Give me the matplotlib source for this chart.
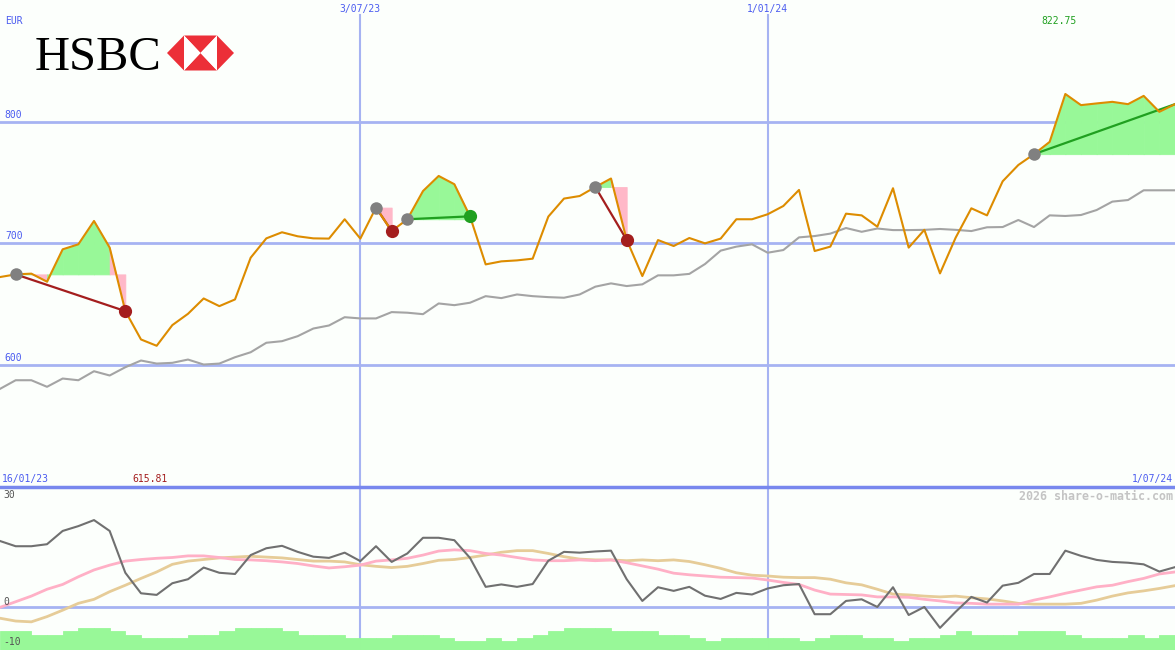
import matplotlib.pyplot as plt
import matplotlib.dates as mdates
import numpy as np
import pandas as pd
from matplotlib.patches import Polygon

# weekly closes, 23/01/23 .. 1/07/24
dates = pd.date_range('2023-01-23', periods=76, freq='7D')

price = [672.3, 674.5, 675.1, 668.5, 695.1, 699.2, 718.4, 696.5, 644.3, 621.0,
         615.81, 632.8, 642.1, 654.7, 648.4, 653.9, 688.2, 704.1, 709.1, 705.8,
         704.1, 703.9, 719.8, 703.9, 729.4, 710.1, 719.8, 743.0, 755.4, 748.6,
         722.2, 682.7, 685.2, 686.0, 687.4, 722.0, 736.8, 738.9, 746.3, 753.3,
         702.9, 673.1, 702.7, 697.8, 704.4, 700.0, 703.9, 719.8, 719.8, 723.9,
         730.7, 743.9, 693.7, 697.3, 724.4, 723.0, 713.7, 745.3, 696.5, 711.1,
         675.3, 704.7, 728.8, 723.0, 751.0, 764.4, 773.3, 783.4, 822.75, 813.6,
         815.0, 816.3, 814.4, 821.2, 808.1, 814.4]

avg = [580.4, 587.5, 587.5, 582.1, 588.9, 587.5, 594.9, 591.4, 598.2, 603.7,
       601.2, 601.8, 604.5, 600.4, 601.2, 606.4, 610.5, 618.3, 619.6, 623.7,
       630.0, 632.5, 639.3, 638.3, 638.3, 643.5, 643.0, 641.8, 650.6, 649.2,
       651.2, 656.6, 655.0, 658.0, 656.6, 655.8, 655.3, 658.0, 664.4, 667.1,
       664.9, 666.3, 673.7, 673.7, 674.9, 683.0, 694.0, 697.3, 699.2, 692.3,
       694.5, 704.9, 706.0, 708.0, 712.6, 709.5, 712.2, 710.9, 710.9, 711.1,
       711.8, 711.1, 710.1, 713.2, 713.4, 719.2, 713.4, 723.0, 722.5, 723.3,
       727.4, 734.3, 735.6, 743.6, 743.6, 743.6]

osc = [16.5, 15.2, 15.2, 15.7, 19.0, 20.2, 21.7, 19.0, 8.6, 3.5,
       3.1, 6.0, 7.0, 9.9, 8.6, 8.3, 13.0, 14.7, 15.3, 13.8,
       12.6, 12.3, 13.6, 11.5, 15.2, 11.3, 13.4, 17.3, 17.3, 16.7,
       12.3, 5.1, 5.7, 5.1, 5.8, 11.6, 13.8, 13.6, 13.9, 14.1,
       7.0, 1.6, 5.0, 4.1, 5.1, 2.9, 2.1, 3.6, 3.2, 4.7,
       5.5, 5.8, -1.7, -1.7, 1.6, 2.0, 0.1, 5.0, -1.9, 0.1,
       -5.1, -1.1, 2.6, 1.2, 5.4, 6.1, 8.3, 8.3, 14.1, 12.8,
       11.8, 11.3, 11.1, 10.7, 8.9, 10.0]

osc_pink = [0.0, 1.4, 2.8, 4.5, 5.7, 7.6, 9.3, 10.5, 11.5, 11.9,
            12.2, 12.4, 12.8, 12.8, 12.4, 11.9, 11.8, 11.6, 11.3, 10.9,
            10.3, 9.8, 10.1, 10.5, 11.5, 11.8, 12.2, 13.0, 14.0, 14.3,
            14.1, 13.4, 13.0, 12.4, 11.8, 11.6, 11.6, 11.8, 11.6, 11.8,
            11.1, 10.3, 9.5, 8.5, 8.1, 7.8, 7.5, 7.4, 7.3, 6.8,
            6.2, 5.7, 4.3, 3.3, 3.2, 3.1, 2.6, 2.6, 2.5, 2.0,
            1.6, 1.1, 1.0, 0.8, 0.8, 0.8, 1.8, 2.6, 3.5, 4.3,
            5.1, 5.5, 6.4, 7.2, 8.3, 8.8]

osc_tan = [-2.7, -3.4, -3.6, -2.3, -0.7, 1.0, 2.0, 3.9, 5.5, 7.2,
           8.8, 10.7, 11.5, 11.9, 12.3, 12.5, 12.7, 12.5, 12.3, 11.9,
           11.5, 11.5, 11.3, 10.6, 10.2, 9.9, 10.2, 10.9, 11.7, 11.9,
           12.4, 13.0, 13.7, 14.1, 14.1, 13.4, 12.6, 12.0, 11.8, 11.8,
           11.6, 11.8, 11.6, 11.8, 11.4, 10.6, 9.7, 8.6, 8.0, 7.8,
           7.5, 7.4, 7.4, 7.0, 6.1, 5.6, 4.5, 3.3, 3.1, 2.8,
           2.6, 2.8, 2.4, 2.1, 1.6, 1.0, 0.8, 0.8, 0.8, 1.0,
           1.8, 2.8, 3.6, 4.1, 4.7, 5.4]

vol = [-5.9, -5.9, -6.9, -6.9, -5.9, -5.1, -5.1, -5.9, -6.9, -7.6,
       -7.6, -7.6, -6.9, -6.9, -5.9, -5.1, -5.1, -5.1, -5.9, -6.9,
       -6.9, -6.9, -7.6, -7.6, -7.6, -6.9, -6.9, -6.9, -7.6, -8.4,
       -8.4, -7.6, -8.4, -7.6, -6.9, -5.9, -5.1, -5.1, -5.1, -5.9,
       -5.9, -5.9, -6.9, -6.9, -7.6, -8.4, -7.6, -7.6, -7.6, -7.6,
       -7.6, -8.4, -7.6, -6.9, -6.9, -7.6, -7.6, -8.4, -7.6, -7.6,
       -6.9, -5.9, -6.9, -6.9, -6.9, -5.9, -5.9, -5.9, -6.9, -7.6,
       -7.6, -7.6, -6.9, -7.6, -6.9, -6.9]

# signals: (entry week, exit week); last one still open
trades = [(1, 8), (24, 25), (26, 30), (38, 40), (66, 75)]
open_last = True

grid_levels = [600, 700, 800]
grid_dates = pd.to_datetime(['2023-07-03', '2024-01-01'])
grid_labels = ['3/07/23', '1/01/24']
start_label = '16/01/23'
end_label = '1/07/24'

BG = '#fcfffc'
GRID = '#a6b3f2'
LBL = '#4b5cf0'
GREEN_FILL = '#98f898'
PINK_FILL = '#ffb8c8'
DKRED = '#a41e1e'
DKGREEN = '#20a020'
mono = 'DejaVu Sans Mono'

W, H = 1175, 650
split = 163.3
fig = plt.figure(figsize=(W / 100, H / 100), dpi=100, facecolor=BG)
ax = fig.add_axes([0, split / H, 1, 1 - split / H], facecolor=BG)
ax2 = fig.add_axes([0, 0, 1, split / H], facecolor=BG)

for a in (ax, ax2):
    for s in a.spines.values():
        s.set_visible(False)
    a.set_xticks([])
    a.set_yticks([])
    a.set_xlim(dates[0], dates[-1])

# ---- main panel ----
ax.set_ylim(500, 900)
for v in grid_levels:
    ax.axhline(v, color=GRID, lw=2, zorder=1)
    ax.annotate(str(v), xy=(0, v), xycoords=('axes fraction', 'data'),
                xytext=(3.5, 1.5), textcoords='offset points', fontsize=7,
                family=mono, color=LBL, va='bottom')
for d, lab in zip(grid_dates, grid_labels):
    ax.axvline(d, ymax=0.969, color=GRID, lw=1.5, zorder=1)
    ax2.axvline(d, color=GRID, lw=1.5, zorder=1)
    ax.text(mdates.date2num(d), 0.981, lab, transform=ax.get_xaxis_transform(),
            ha='center', va='center', fontsize=7, family=mono, color=LBL)

p = np.array(price)
for k, (e, x) in enumerate(trades):
    lvl = p[e]
    # each week's segment shaded by where it ends relative to the entry price
    for j in range(e, x):
        c = GREEN_FILL if p[j + 1] >= lvl else PINK_FILL
        ax.fill_between(dates[j:j + 2], p[j:j + 2], lvl, facecolor=c, edgecolor=c,
                        lw=0.6, zorder=2)
    col = DKGREEN if p[x] > lvl else DKRED
    ax.plot([dates[e], dates[x]], [lvl, p[x]], color=col, lw=1.6, zorder=3)

ax.plot(dates, avg, color='#a4a4a4', lw=1.5, zorder=4)
ax.plot(dates, price, color='#dd8c00', lw=1.5, zorder=5)

for k, (e, x) in enumerate(trades):
    ax.plot(dates[e], p[e], 'o', ms=9, color='#808080', mec='none', zorder=6)
    if open_last and k == len(trades) - 1:
        continue
    col = DKGREEN if p[x] > p[e] else DKRED
    ax.plot(dates[x], p[x], 'o', ms=9.5, color=col, mec='none', zorder=6)

# extreme values
imax, imin = int(np.argmax(p)), int(np.argmin(p))
ax.annotate(f'{p[imax]:.2f}', xy=(mdates.date2num(dates[imax]), 0.957),
            xycoords=ax.get_xaxis_transform(), xytext=(-4.5, 0), textcoords='offset points',
            ha='center', va='center', fontsize=7, family=mono, color=DKGREEN)
ax.annotate(f'{p[imin]:.2f}', xy=(mdates.date2num(dates[imin]), 0.016),
            xycoords=ax.get_xaxis_transform(), xytext=(-4.5, 0), textcoords='offset points',
            ha='center', va='center', fontsize=7, family=mono, color=DKRED)
ax.text(0.002, 0.016, start_label, transform=ax.transAxes, ha='left', va='center',
        fontsize=7, family=mono, color=LBL)
ax.text(0.998, 0.016, end_label, transform=ax.transAxes, ha='right', va='center',
        fontsize=7, family=mono, color=LBL)
ax.text(5 / W, 1 - 21.5 / 486.7, 'EUR', transform=ax.transAxes, ha='left', va='center',
        fontsize=7, family=mono, color=LBL)

# logo
fig.text(35 / W, 1 - 70 / H, 'HSBC', family='Liberation Serif', fontsize=35,
         color='black', va='baseline', ha='left')
lax = fig.add_axes([160 / W, 1 - 78 / H, 85 / W, 50 / H])
lax.set_xlim(160, 245)
lax.set_ylim(78, 28)
lax.axis('off')
red = '#ec2f38'
for pts, c in [([(167, 53), (184, 35.5), (184, 70.5)], red),
               ([(234, 53), (217, 35.5), (217, 70.5)], red),
               ([(184, 35.5), (217, 35.5), (200.5, 53)], red),
               ([(184, 70.5), (217, 70.5), (200.5, 53)], red),
               ([(184, 35.5), (184, 70.5), (200.5, 53)], 'white'),
               ([(217, 35.5), (217, 70.5), (200.5, 53)], 'white')]:
    lax.add_patch(Polygon(pts, closed=True, fc=c, ec='none'))

# ---- lower panel ----
ax2.set_ylim(-10.6, 30)
base = -11
ax2.bar(dates, np.array(vol) - base, bottom=base, width=7, align='edge',
        color=GREEN_FILL, edgecolor=GREEN_FILL, lw=0.6, zorder=1)
ax2.axhline(0, color=GRID, lw=2, zorder=1)
ax2.axhline(30, color='#7888ee', lw=2.5, zorder=6, clip_on=False)
ax2.plot(dates, osc_tan, color='#e6cc98', lw=2, zorder=3)
ax2.plot(dates, osc_pink, color='#ffb0c6', lw=2, zorder=3)
ax2.plot(dates, osc, color='#707070', lw=1.5, zorder=4)
for v, dy in [(30, -8.5), (0, 5.5), (-10, 5.5)]:
    ax2.annotate(str(v), xy=(0, v), xycoords=('axes fraction', 'data'),
                 xytext=(3.5, dy), textcoords='offset pixels', fontsize=7,
                 family=mono, color='#555555', va='center')
ax2.text(0.998, 1 - 9.5 / split, '2026 share-o-matic.com', transform=ax2.transAxes,
         ha='right', va='center', fontsize=8.4, family=mono, weight='bold', color='#c4c4c4')

fig.savefig('out.png', dpi=100, facecolor=BG)
